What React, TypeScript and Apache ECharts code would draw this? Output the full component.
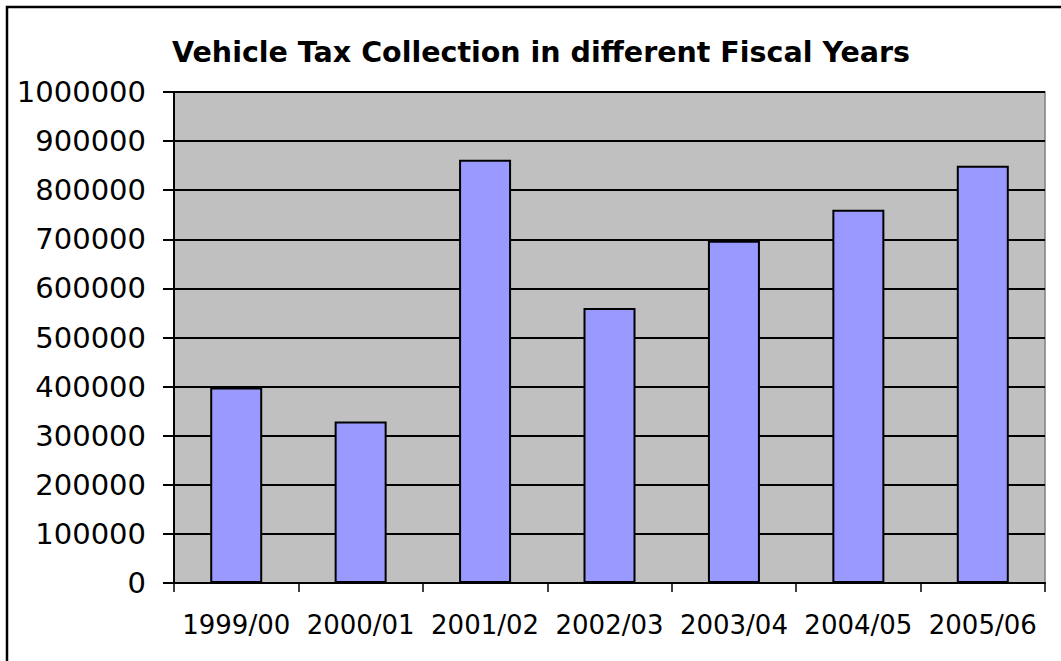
import React, { useEffect, useRef } from "react";
import * as echarts from "echarts";

const title = "Vehicle Tax Collection in different Fiscal Years";
const categories = ["1999/00", "2000/01", "2001/02", "2002/03", "2003/04", "2004/05", "2005/06"];
const values = [398000, 329000, 862000, 560000, 697000, 760000, 850000];

export default function App() {
  const ref = useRef<HTMLDivElement>(null);
  useEffect(() => {
    if (!ref.current) return;
    const chart = echarts.init(ref.current, undefined, { renderer: "svg" });
    chart.setOption({
      animation: false,
      backgroundColor: "#ffffff",
      title: {
        text: title,
        left: 536,
        textAlign: "center",
        top: 33,
        textStyle: { fontFamily: "DejaVu Sans", fontWeight: "bold", fontSize: 28.5, color: "#000" },
      },
      graphic: [
        {
          type: "rect",
          shape: { x: 7, y: 7, width: 1200, height: 800 },
          style: { fill: "none", stroke: "#000", lineWidth: 2.5 },
          silent: true,
        },
      ],
      grid: {
        left: 174,
        right: 16,
        top: 92,
        bottom: 78,
        show: true,
        backgroundColor: "#C0C0C0",
        borderColor: "#808080",
        borderWidth: 1.5,
      },
      xAxis: {
        type: "category",
        data: categories,
        axisLine: { show: true, lineStyle: { color: "#000", width: 2 } },
        axisTick: { show: true, length: 9, lineStyle: { color: "#000", width: 1.5 } },
        axisLabel: { interval: 0, margin: 29, fontFamily: "DejaVu Sans", fontSize: 26, color: "#000" },
        splitLine: { show: false },
      },
      yAxis: {
        type: "value",
        min: 0,
        max: 1000000,
        interval: 100000,
        axisLine: { show: true, lineStyle: { color: "#000", width: 2 } },
        axisTick: { show: true, length: 11, lineStyle: { color: "#000", width: 2 } },
        axisLabel: {
          margin: 28,
          fontFamily: "DejaVu Sans",
          fontSize: 29,
          color: "#000",
          formatter: (v: number) => String(v),
        },
        splitLine: { show: true, lineStyle: { color: "#000", width: 2 } },
      },
      series: [
        {
          type: "bar",
          data: values,
          barWidth: 52,
          itemStyle: { color: "#9999FF", borderColor: "#000", borderWidth: 2 },
        },
      ],
    });
    return () => chart.dispose();
  }, []);
  return (
    <div
      ref={ref}
      style={{ position: "absolute", left: 0, top: 0, width: 1061, height: 661 }}
    />
  );
}
